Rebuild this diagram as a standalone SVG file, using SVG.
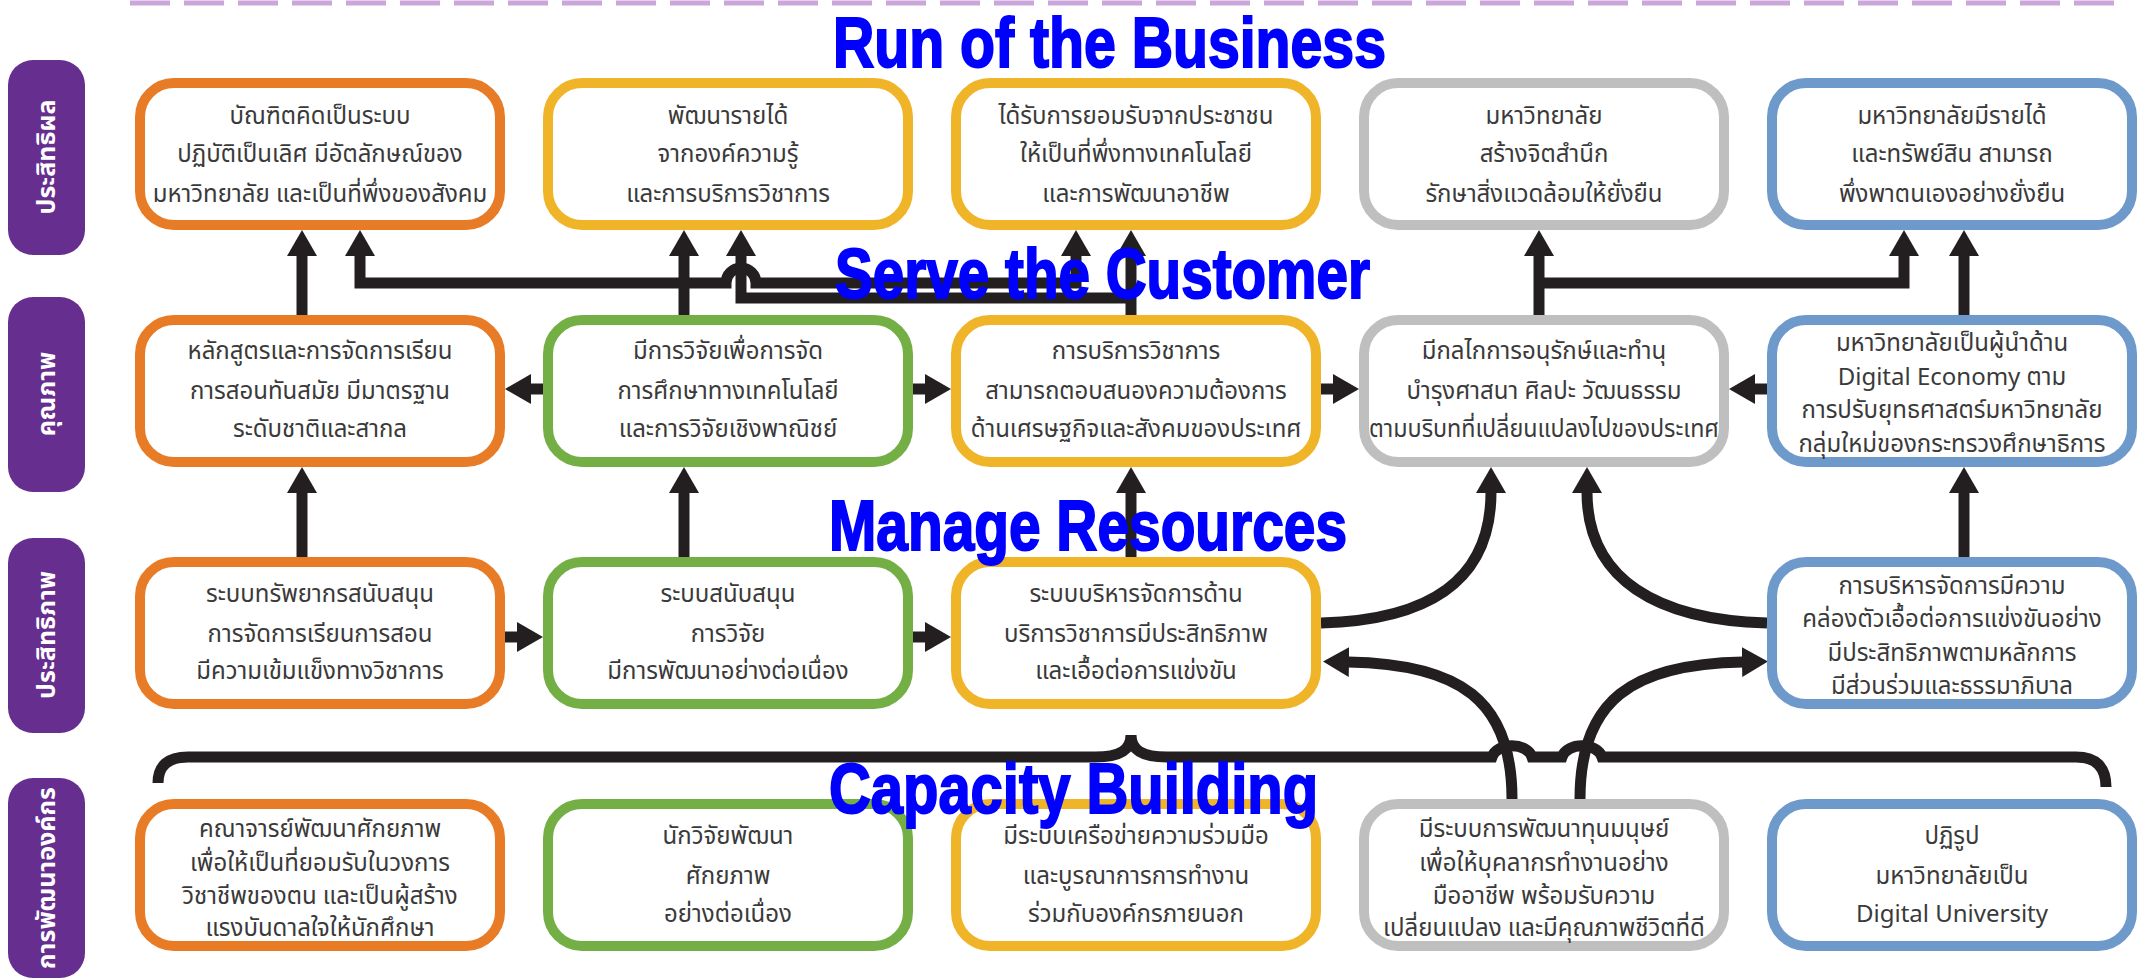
<svg xmlns="http://www.w3.org/2000/svg" width="2153" height="980" viewBox="0 0 2153 980">
<defs>
<style>
.box{fill:#fff;stroke-width:10}
.o{stroke:#E87B25}.y{stroke:#F0B429}.g{stroke:#74AF45}.gr{stroke:#BFBFBF}.b{stroke:#6E99CB}
.t{font-family:"Noto Sans Thai","Noto Sans","DejaVu Sans",sans-serif;font-size:24px;fill:#3a3a3a;text-anchor:middle}
.pill{fill:#662E8F}
.pt{font-family:"Noto Sans Thai","Noto Sans","DejaVu Sans",sans-serif;font-size:25px;font-weight:bold;fill:#fff;text-anchor:middle}
.c{fill:none;stroke:#231F20;stroke-width:11;stroke-linejoin:miter}
.title{font-family:"Liberation Sans",Arial,sans-serif;font-weight:bold;font-size:70px;fill:#0000FF;stroke:#0000FF;stroke-width:2}
</style>
<marker id="ah" viewBox="0 0 26 30" refX="1" refY="15" markerWidth="26" markerHeight="30" markerUnits="userSpaceOnUse" orient="auto"><path d="M0,0 L26,15 L0,30 z" fill="#231F20"/></marker>
</defs>
<rect width="2153" height="980" fill="#fff"/>
<line x1="130" y1="3" x2="2120" y2="3" stroke="#CBA6DC" stroke-width="5" stroke-dasharray="40,14"/>

<g id="pills">
<g id="pill1"><rect class="pill" x="8" y="60" width="77" height="195" rx="25"/><text class="pt" transform="translate(55,157) rotate(-90)">ประสิทธิผล</text></g>
<g id="pill2"><rect class="pill" x="8" y="297" width="77" height="195" rx="25"/><text class="pt" transform="translate(55,394) rotate(-90)">คุณภาพ</text></g>
<g id="pill3"><rect class="pill" x="8" y="538" width="77" height="195" rx="25"/><text class="pt" transform="translate(55,635) rotate(-90)">ประสิทธิภาพ</text></g>
<g id="pill4"><rect class="pill" x="8" y="778" width="77" height="200" rx="25"/><text class="pt" transform="translate(55,878) rotate(-90)">การพัฒนาองค์กร</text></g>
</g>

<g id="connectors">
<path class="c" d="M158,783 Q158,757 188,757 H1095 C1120,757 1131,750 1131,735 C1131,750 1142,757 1167,757 H1492 C1497,742 1527,742 1532,757 H1562 C1567,742 1597,742 1602,757 H2076 Q2106,757 2106,787"/>
<path class="c" marker-end="url(#ah)" d="M302,315 V255"/>
<path class="c" marker-end="url(#ah)" d="M684,315 V255"/>
<path class="c" marker-end="url(#ah)" d="M684,283 H360 V255"/>
<path class="c" marker-end="url(#ah)" d="M684,283 H726 A15,15 0 0 1 756,283 H1076 V255"/>
<path class="c" marker-end="url(#ah)" d="M1131,315 V255"/>
<path class="c" marker-end="url(#ah)" d="M1131,298 H741 V255"/>
<path class="c" marker-end="url(#ah)" d="M1539,315 V255"/>
<path class="c" marker-end="url(#ah)" d="M1539,283 H1904 V255"/>
<path class="c" marker-end="url(#ah)" d="M1964,315 V255"/>
<path class="c" marker-end="url(#ah)" d="M543,389 H530"/>
<path class="c" marker-end="url(#ah)" d="M913,389 H926"/>
<path class="c" marker-end="url(#ah)" d="M1321,389 H1334"/>
<path class="c" marker-end="url(#ah)" d="M1767,389 H1754"/>
<path class="c" marker-end="url(#ah)" d="M302,557 V492"/>
<path class="c" marker-end="url(#ah)" d="M684,557 V492"/>
<path class="c" marker-end="url(#ah)" d="M1131,557 V492"/>
<path class="c" marker-end="url(#ah)" d="M1964,557 V492"/>
<path class="c" marker-end="url(#ah)" d="M505,637 H518"/>
<path class="c" marker-end="url(#ah)" d="M913,637 H926"/>
<path class="c" marker-end="url(#ah)" d="M1321,623 C1430,620 1491,580 1491,492"/>
<path class="c" marker-end="url(#ah)" d="M1767,623 C1658,620 1587,580 1587,492"/>
<path class="c" marker-end="url(#ah)" d="M1512,799 C1512,700 1460,664 1348,662"/>
<path class="c" marker-end="url(#ah)" d="M1580,799 C1580,700 1632,664 1743,662"/>
</g>

<g id="r1c1"><rect class="box o" x="140" y="83" width="360" height="142" rx="34"/><text class="t" x="320" y="124">บัณฑิตคิดเป็นระบบ</text><text class="t" x="320" y="162">ปฏิบัติเป็นเลิศ มีอัตลักษณ์ของ</text><text class="t" x="320" y="202">มหาวิทยาลัย และเป็นที่พึ่งของสังคม</text></g>
<g id="r1c2"><rect class="box y" x="548" y="83" width="360" height="142" rx="34"/><text class="t" x="728" y="124">พัฒนารายได้</text><text class="t" x="728" y="162">จากองค์ความรู้</text><text class="t" x="728" y="202">และการบริการวิชาการ</text></g>
<g id="r1c3"><rect class="box y" x="956" y="83" width="360" height="142" rx="34"/><text class="t" x="1136" y="124">ได้รับการยอมรับจากประชาชน</text><text class="t" x="1136" y="162">ให้เป็นที่พึ่งทางเทคโนโลยี</text><text class="t" x="1136" y="202">และการพัฒนาอาชีพ</text></g>
<g id="r1c4"><rect class="box gr" x="1364" y="83" width="360" height="142" rx="34"/><text class="t" x="1544" y="124">มหาวิทยาลัย</text><text class="t" x="1544" y="162">สร้างจิตสำนึก</text><text class="t" x="1544" y="202">รักษาสิ่งแวดล้อมให้ยั่งยืน</text></g>
<g id="r1c5"><rect class="box b" x="1772" y="83" width="360" height="142" rx="34"/><text class="t" x="1952" y="124">มหาวิทยาลัยมีรายได้</text><text class="t" x="1952" y="162">และทรัพย์สิน สามารถ</text><text class="t" x="1952" y="202">พึ่งพาตนเองอย่างยั่งยืน</text></g>

<g id="r2c1"><rect class="box o" x="140" y="320" width="360" height="142" rx="34"/><text class="t" x="320" y="359">หลักสูตรและการจัดการเรียน</text><text class="t" x="320" y="399">การสอนทันสมัย มีมาตรฐาน</text><text class="t" x="320" y="437">ระดับชาติและสากล</text></g>
<g id="r2c2"><rect class="box g" x="548" y="320" width="360" height="142" rx="34"/><text class="t" x="728" y="359">มีการวิจัยเพื่อการจัด</text><text class="t" x="728" y="399">การศึกษาทางเทคโนโลยี</text><text class="t" x="728" y="437">และการวิจัยเชิงพาณิชย์</text></g>
<g id="r2c3"><rect class="box y" x="956" y="320" width="360" height="142" rx="34"/><text class="t" x="1136" y="359">การบริการวิชาการ</text><text class="t" x="1136" y="399">สามารถตอบสนองความต้องการ</text><text class="t" x="1136" y="437">ด้านเศรษฐกิจและสังคมของประเทศ</text></g>
<g id="r2c4"><rect class="box gr" x="1364" y="320" width="360" height="142" rx="34"/><text class="t" x="1544" y="359">มีกลไกการอนุรักษ์และทำนุ</text><text class="t" x="1544" y="399">บำรุงศาสนา ศิลปะ วัฒนธรรม</text><text class="t" x="1544" y="437" textLength="350" lengthAdjust="spacingAndGlyphs">ตามบริบทที่เปลี่ยนแปลงไปของประเทศ</text></g>
<g id="r2c5"><rect class="box b" x="1772" y="320" width="360" height="142" rx="34"/><text class="t" x="1952" y="351">มหาวิทยาลัยเป็นผู้นำด้าน</text><text class="t" x="1952" y="385">Digital Economy ตาม</text><text class="t" x="1952" y="418">การปรับยุทธศาสตร์มหาวิทยาลัย</text><text class="t" x="1952" y="452">กลุ่มใหม่ของกระทรวงศึกษาธิการ</text></g>

<g id="r3c1"><rect class="box o" x="140" y="562" width="360" height="142" rx="34"/><text class="t" x="320" y="602">ระบบทรัพยากรสนับสนุน</text><text class="t" x="320" y="642">การจัดการเรียนการสอน</text><text class="t" x="320" y="679">มีความเข้มแข็งทางวิชาการ</text></g>
<g id="r3c2"><rect class="box g" x="548" y="562" width="360" height="142" rx="34"/><text class="t" x="728" y="602">ระบบสนับสนุน</text><text class="t" x="728" y="642">การวิจัย</text><text class="t" x="728" y="679">มีการพัฒนาอย่างต่อเนื่อง</text></g>
<g id="r3c3"><rect class="box y" x="956" y="562" width="360" height="142" rx="34"/><text class="t" x="1136" y="602">ระบบบริหารจัดการด้าน</text><text class="t" x="1136" y="642">บริการวิชาการมีประสิทธิภาพ</text><text class="t" x="1136" y="679">และเอื้อต่อการแข่งขัน</text></g>
<g id="r3c5"><rect class="box b" x="1772" y="562" width="360" height="142" rx="34"/><text class="t" x="1952" y="594">การบริหารจัดการมีความ</text><text class="t" x="1952" y="627">คล่องตัวเอื้อต่อการแข่งขันอย่าง</text><text class="t" x="1952" y="661">มีประสิทธิภาพตามหลักการ</text><text class="t" x="1952" y="694">มีส่วนร่วมและธรรมาภิบาล</text></g>

<g id="r4c1"><rect class="box o" x="140" y="804" width="360" height="142" rx="34"/><text class="t" x="320" y="837">คณาจารย์พัฒนาศักยภาพ</text><text class="t" x="320" y="871">เพื่อให้เป็นที่ยอมรับในวงการ</text><text class="t" x="320" y="904">วิชาชีพของตน และเป็นผู้สร้าง</text><text class="t" x="320" y="936">แรงบันดาลใจให้นักศึกษา</text></g>
<g id="r4c2"><rect class="box g" x="548" y="804" width="360" height="142" rx="34"/><text class="t" x="728" y="844">นักวิจัยพัฒนา</text><text class="t" x="728" y="884">ศักยภาพ</text><text class="t" x="728" y="922">อย่างต่อเนื่อง</text></g>
<g id="r4c3"><rect class="box y" x="956" y="804" width="360" height="142" rx="34"/><text class="t" x="1136" y="844">มีระบบเครือข่ายความร่วมมือ</text><text class="t" x="1136" y="884">และบูรณาการการทำงาน</text><text class="t" x="1136" y="922">ร่วมกับองค์กรภายนอก</text></g>
<g id="r4c4"><rect class="box gr" x="1364" y="804" width="360" height="142" rx="34"/><text class="t" x="1544" y="837">มีระบบการพัฒนาทุนมนุษย์</text><text class="t" x="1544" y="871">เพื่อให้บุคลากรทำงานอย่าง</text><text class="t" x="1544" y="904">มืออาชีพ พร้อมรับความ</text><text class="t" x="1544" y="936">เปลี่ยนแปลง และมีคุณภาพชีวิตที่ดี</text></g>
<g id="r4c5"><rect class="box b" x="1772" y="804" width="360" height="142" rx="34"/><text class="t" x="1952" y="844">ปฏิรูป</text><text class="t" x="1952" y="884">มหาวิทยาลัยเป็น</text><text class="t" x="1952" y="922">Digital University</text></g>

<g id="titles">
<text class="title" x="833" y="67" textLength="553" lengthAdjust="spacingAndGlyphs">Run of the Business</text>
<text class="title" x="835" y="298" textLength="535" lengthAdjust="spacingAndGlyphs">Serve the Customer</text>
<text class="title" x="829" y="550" textLength="518" lengthAdjust="spacingAndGlyphs">Manage Resources</text>
<text class="title" x="829" y="813" textLength="489" lengthAdjust="spacingAndGlyphs">Capacity Building</text>
</g>
</svg>
